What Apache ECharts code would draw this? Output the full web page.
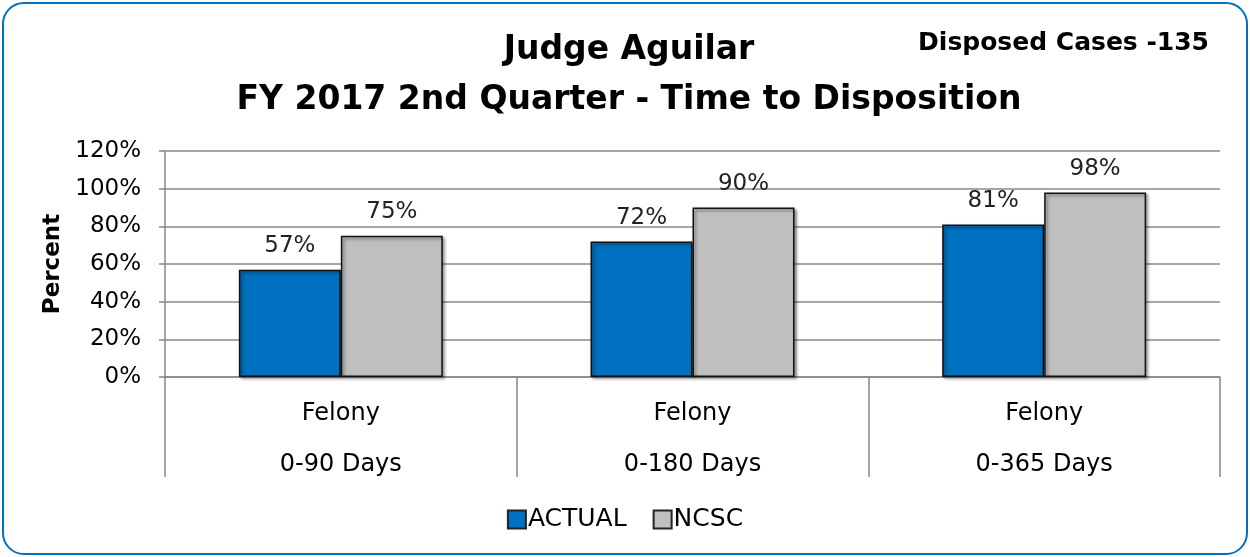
<!DOCTYPE html>
<html>
<head>
<meta charset="utf-8">
<script src="https://cdn.jsdelivr.net/npm/echarts@6/dist/echarts.min.js"></script>
<style>
  html, body { margin: 0; padding: 0; background: #fff; }
  #frame {
    position: absolute; left: 2px; top: 2px; width: 1242px; height: 549px;
    border: 2px solid #0070C0; border-radius: 22px; overflow: hidden;
  }
  #chart { position: absolute; left: -4px; top: -4px; width: 1250px; height: 557px; }
</style>
</head>
<body>
<div id="frame"><div id="chart"></div></div>
<script>
// 分类（两级标签）
const caseTypes = ['Felony', 'Felony', 'Felony'];
const dayRanges = ['0-90 Days', '0-180 Days', '0-365 Days'];
// 系列数据 (%)
const actualValues = [57, 72, 81];
const ncscValues = [75, 90, 98];
const yTicks = [0, 20, 40, 60, 80, 100, 120];

const categories = caseTypes.map((t, i) => t + '\n' + dayRanges[i]);
const fontName = '"DejaVu Sans", sans-serif';

const barShadow = {
  borderColor: '#111',
  borderWidth: 1.5,
  shadowColor: 'rgba(0,0,0,0.45)',
  shadowBlur: 3,
  shadowOffsetX: 2,
  shadowOffsetY: 2
};

const option = {
  animation: false,
  textStyle: { fontFamily: fontName },
  title: [
    {
      text: 'Judge Aguilar\nFY 2017 2nd Quarter - Time to Disposition',
      left: 624, top: 20, textAlign: 'center',
      textStyle: { fontSize: 33, fontWeight: 'bold', color: '#000', lineHeight: 50, fontFamily: fontName }
    },
    {
      text: 'Disposed Cases -135',
      right: 36, top: 26,
      textStyle: { fontSize: 25, fontWeight: 'bold', color: '#000', fontFamily: fontName }
    }
  ],
  legend: {
    bottom: 20, left: 'center',
    itemWidth: 18, itemHeight: 18, itemGap: 26,
    icon: 'rect',
    textStyle: { fontSize: 25, color: '#000', padding: [0, 0, 0, -3] },
    data: [
      { name: 'ACTUAL', itemStyle: { borderColor: '#222', borderWidth: 2 } },
      { name: 'NCSC', itemStyle: { borderColor: '#222', borderWidth: 2 } }
    ]
  },
  grid: { left: 165, right: 30, top: 151, bottom: 180, containLabel: false },
  xAxis: {
    type: 'category',
    data: categories,
    axisLine: { lineStyle: { color: '#888', width: 1.5 } },
    axisTick: { show: true, length: 100, lineStyle: { color: '#888', width: 1.5 } },
    axisLabel: {
      fontSize: 24, color: '#000', lineHeight: 51, margin: 11,
      formatter: v => v
    }
  },
  yAxis: {
    type: 'value',
    min: 0, max: 120, interval: 20,
    name: 'Percent',
    nameLocation: 'middle',
    nameGap: 100,
    nameTextStyle: { fontSize: 23, fontWeight: 'bold', color: '#000' },
    axisLine: { show: true, lineStyle: { color: '#888', width: 1.5 } },
    axisTick: { show: true, length: 6, lineStyle: { color: '#888', width: 1.5 } },
    axisLabel: {
      fontSize: 23, color: '#000', margin: 24,
      formatter: v => (yTicks.indexOf(v) >= 0 ? v + '%' : '')
    },
    splitLine: { lineStyle: { color: '#888', width: 1.5 } }
  },
  series: [
    {
      name: 'ACTUAL', type: 'bar', data: actualValues,
      barGap: '0%', barCategoryGap: '42%',
      itemStyle: Object.assign({ color: '#0070C0' }, barShadow),
      label: { show: true, position: 'top', distance: 12, fontSize: 23, color: '#222', formatter: '{c}%' }
    },
    {
      name: 'NCSC', type: 'bar', data: ncscValues,
      itemStyle: Object.assign({ color: '#BFBFBF' }, barShadow),
      label: { show: true, position: 'top', distance: 12, fontSize: 23, color: '#222', formatter: '{c}%' }
    }
  ]
};

const chart = echarts.init(document.getElementById('chart'));
chart.setOption(option);
</script>
</body>
</html>
